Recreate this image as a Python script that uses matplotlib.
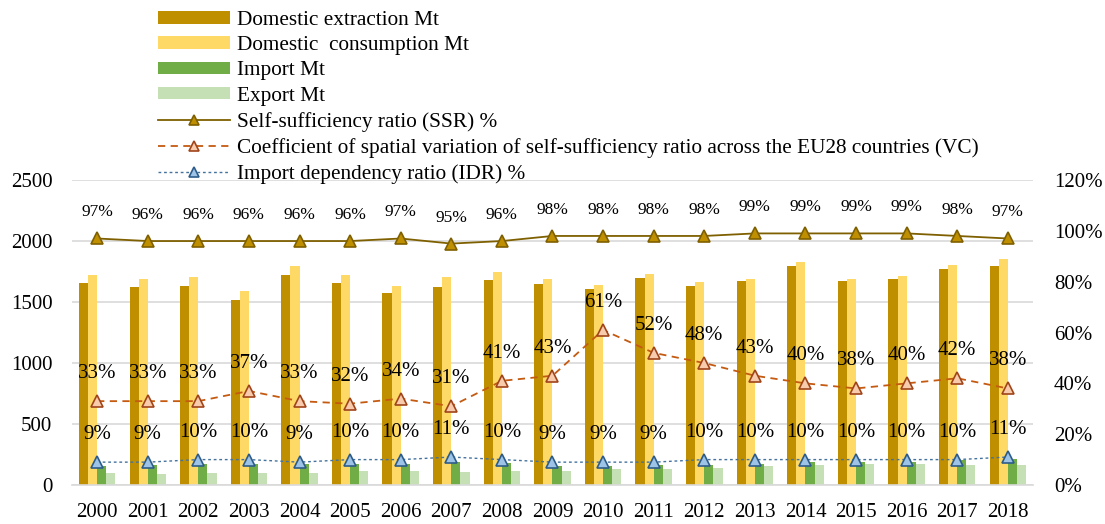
import matplotlib
matplotlib.use("Agg")
import matplotlib.pyplot as plt
import numpy as np

plt.rcParams['font.family'] = ['Liberation Serif', 'DejaVu Serif']

years = ['2000', '2001', '2002', '2003', '2004', '2005', '2006', '2007', '2008', '2009',
         '2010', '2011', '2012', '2013', '2014', '2015', '2016', '2017', '2018']

# Mt
extraction = [1659, 1621, 1632, 1517, 1719, 1656, 1572, 1623, 1681, 1648,
              1610, 1697, 1632, 1670, 1798, 1670, 1692, 1771, 1798]
consumption = [1719, 1692, 1708, 1588, 1795, 1719, 1629, 1705, 1746, 1686,
               1640, 1733, 1664, 1692, 1825, 1689, 1713, 1806, 1853]
imports = [153, 161, 169, 169, 169, 172, 172, 186, 180, 153,
           158, 166, 166, 172, 186, 186, 191, 202, 213]
exports = [95, 87, 95, 101, 95, 112, 117, 104, 117, 117,
           131, 131, 136, 153, 161, 169, 169, 161, 161]

# %
ssr = [97, 96, 96, 96, 96, 96, 97, 95, 96, 98, 98, 98, 98, 99, 99, 99, 99, 98, 97]
vc = [33, 33, 33, 37, 33, 32, 34, 31, 41, 43, 61, 52, 48, 43, 40, 38, 40, 42, 38]
idr = [9, 9, 10, 10, 9, 10, 10, 11, 10, 9, 9, 9, 10, 10, 10, 10, 10, 10, 11]

fig = plt.figure(figsize=(11.05, 5.24), dpi=100)
ax = fig.add_axes([0.065, 0.0744, 0.87, 0.582])
ax2 = ax.twinx()

x = np.arange(len(years))
w = 0.18
ax.bar(x - 1.5 * w, extraction, w, color='#BF8F00', label='Domestic extraction Mt', zorder=2)
ax.bar(x - 0.5 * w, consumption, w, color='#FFD966', label='Domestic  consumption Mt', zorder=2)
ax.bar(x + 0.5 * w, imports, w, color='#70AD47', label='Import Mt', zorder=2)
ax.bar(x + 1.5 * w, exports, w, color='#C5E0B4', label='Export Mt', zorder=2)

ax.set_xlim(-0.5, len(years) - 0.5)
ax.set_ylim(0, 2500)
ax.set_yticks(range(0, 2501, 500))
ax.yaxis.grid(True, color='#D9D9D9', linewidth=1.2, zorder=0)
ax.set_axisbelow(True)
ax.set_xticks(x)
ax.set_xticklabels(years)
ax.tick_params(axis='both', length=0, labelsize=15)
ax.tick_params(axis='x', pad=13)
ax.tick_params(axis='y', pad=14)
for s in ['top', 'left', 'right']:
    ax.spines[s].set_visible(False)
ax.spines['bottom'].set_color('#D9D9D9')
ax.spines['bottom'].set_linewidth(1.2)

ax2.plot(x, ssr, color='#7F6000', linewidth=1.3, marker='^', markersize=9,
         markerfacecolor='#BF8F00', markeredgecolor='#7F6000', markeredgewidth=1.2,
         label='Self-sufficiency ratio (SSR) %')
ax2.plot(x, vc, color='#C55A11', linewidth=1.3, linestyle=(0, (4, 3)), marker='^', markersize=9,
         markerfacecolor='#F8CBAD', markeredgecolor='#A0441A', markeredgewidth=1.2,
         label='Coefficient of spatial variation of self-sufficiency ratio across the EU28 countries (VC)')
ax2.plot(x, idr, color='#44729E', linewidth=1.0, linestyle=(0, (2, 2)), marker='^', markersize=9,
         markerfacecolor='#9DC3E6', markeredgecolor='#2E5C8A', markeredgewidth=1.2,
         label='Import dependency ratio (IDR) %')
ax2.set_ylim(0, 120)
ax2.set_yticks(range(0, 121, 20))
ax2.set_yticklabels([f'{v}%' for v in range(0, 121, 20)])
ax2.tick_params(axis='y', length=0, labelsize=15, pad=15)
for s in ax2.spines.values():
    s.set_visible(False)

for xi, v in zip(x, ssr):
    ax2.annotate(f'{v}%', (xi, v), xytext=(0, 13), textcoords='offset points',
                 ha='center', va='bottom', fontsize=12.5)
for xi, v in zip(x, vc):
    ax2.annotate(f'{v}%', (xi, v), xytext=(0, 13), textcoords='offset points',
                 ha='center', va='bottom', fontsize=15)
for xi, v in zip(x, idr):
    ax2.annotate(f'{v}%', (xi, v), xytext=(0, 13), textcoords='offset points',
                 ha='center', va='bottom', fontsize=15)

h1, l1 = ax.get_legend_handles_labels()
h2, l2 = ax2.get_legend_handles_labels()
fig.legend(h1 + h2, l1 + l2, loc='upper left', bbox_to_anchor=(0.141, 0.983),
           frameon=False, fontsize=15.3, handlelength=3.4, handleheight=0.52,
           labelspacing=0.29, handletextpad=0.3, borderaxespad=0, borderpad=0.1,
           markerscale=0.8)

fig.savefig('out.png', dpi=100)
